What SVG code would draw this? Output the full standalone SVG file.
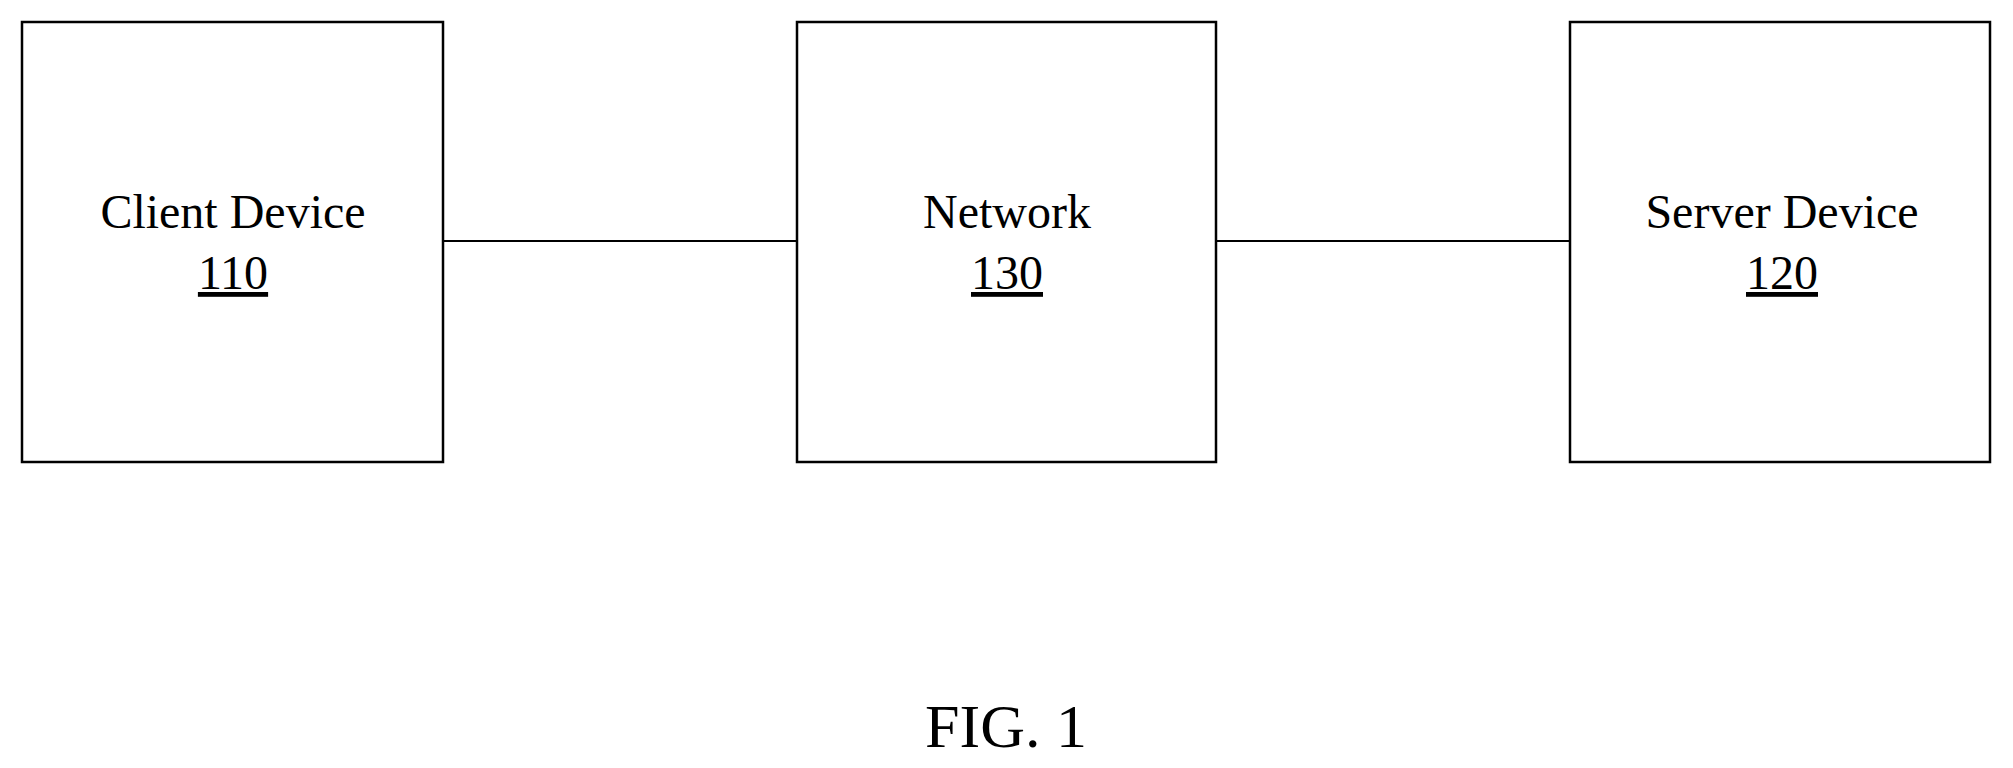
<svg xmlns="http://www.w3.org/2000/svg" width="2013" height="768" viewBox="0 0 2013 768">
<style>
.box{fill:#fff;stroke:#000;stroke-width:2.5}
.t{font-family:"Liberation Serif",serif;font-size:48px;text-anchor:middle;fill:#000}
.u{text-decoration:underline}
.c{stroke:#000;stroke-width:2;fill:none}
</style>
<rect width="2013" height="768" fill="#fff"/>
<g id="connectors">
<line class="c" x1="443" y1="241" x2="797" y2="241"/>
<line class="c" x1="1216" y1="241" x2="1570" y2="241"/>
</g>
<g id="client">
<rect class="box" x="22" y="22" width="421" height="440"/>
<text class="t" x="233" y="228">Client Device</text>
<text class="t u" x="233" y="289">110</text>
</g>
<g id="network">
<rect class="box" x="797" y="22" width="419" height="440"/>
<text class="t" x="1007" y="228">Network</text>
<text class="t u" x="1007" y="289">130</text>
</g>
<g id="server">
<rect class="box" x="1570" y="22" width="420" height="440"/>
<text class="t" x="1782" y="228">Server Device</text>
<text class="t u" x="1782" y="289">120</text>
</g>
<text class="t" x="1006" y="747" style="font-size:62px">FIG. 1</text>
</svg>
